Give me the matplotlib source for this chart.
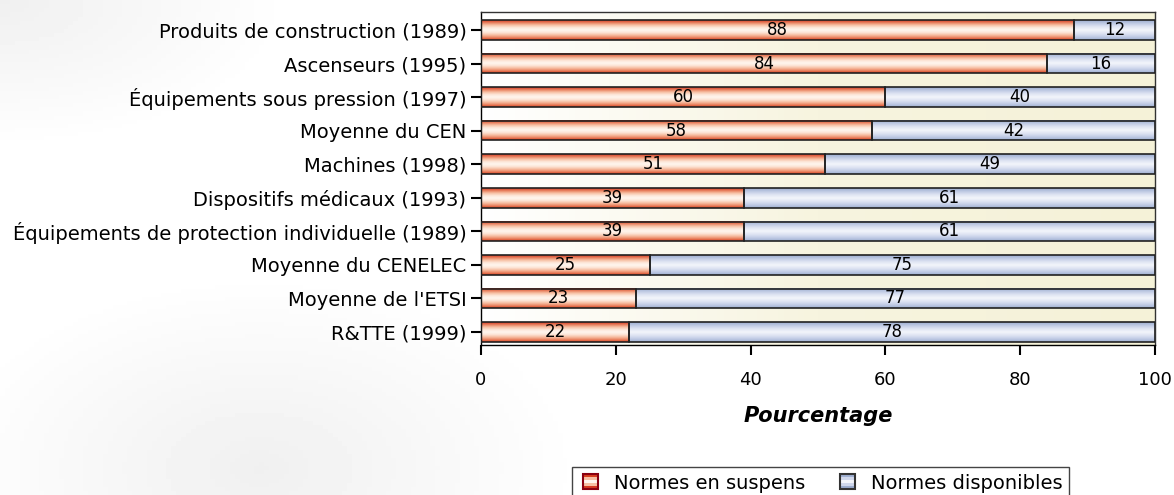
import numpy as np
import matplotlib
matplotlib.use("Agg")
import matplotlib.pyplot as plt
from matplotlib.colors import LinearSegmentedColormap
from matplotlib.patches import Rectangle
from matplotlib.legend_handler import HandlerBase

plt.rcParams['font.family'] = ['DejaVu Sans']

categories = ["Produits de construction (1989)", "Ascenseurs (1995)",
              "Équipements sous pression (1997)", "Moyenne du CEN",
              "Machines (1998)", "Dispositifs médicaux (1993)",
              "Équipements de protection individuelle (1989)",
              "Moyenne du CENELEC", "Moyenne de l'ETSI", "R&TTE (1999)"]
suspens = [88, 84, 60, 58, 51, 39, 39, 25, 23, 22]
disponibles = [12, 16, 40, 42, 49, 61, 61, 75, 77, 78]
xticks = [0, 20, 40, 60, 80, 100]

RED = ["#d63a22", "#e8805e", "#f7c0a4", "#fde6d8", "#fff6ef", "#fde6d8", "#f7c0a4", "#eb8a68", "#d8401f"]
BLUE = ["#9cadcf", "#bfcae4", "#dfe4f3", "#f3f5fb", "#dfe4f3", "#c3cde6", "#a0b0d2"]
red_cmap = LinearSegmentedColormap.from_list("r", RED)
blue_cmap = LinearSegmentedColormap.from_list("b", BLUE)
H = 0.58

fig = plt.figure(figsize=(11.74, 4.95), dpi=100)
# fond gris leger
bg = fig.add_axes([0, 0, 1, 1], zorder=-5)
gx, gy = np.meshgrid(np.linspace(0, 1, 240), np.linspace(0, 1, 120))
s1 = np.clip(1 - np.hypot((gx - 0.0) / 0.25, (gy - 1.0) / 0.3), 0, 1)
s2 = np.clip(1 - np.hypot((gx - 0.22) / 0.28, (gy - 0.05) / 0.4), 0, 1)
shade = np.maximum(s1, s2) * 0.06
bg.imshow(1 - shade, cmap="gray", vmin=0, vmax=1, extent=[0, 1, 0, 1], aspect="auto",
          origin="lower")
bg.axis("off")

ax = fig.add_axes([481 / 1174, 1 - 345 / 495, (1155 - 481) / 1174, (345 - 12) / 495])
ax.imshow(np.linspace(0, 1, 100)[None, :],
          cmap=LinearSegmentedColormap.from_list("p", ["#ffffff", "#f7f4df", "#f5f2d8"]),
          extent=[0, 1, 0, 1], transform=ax.transAxes, aspect="auto", zorder=0)

grad = np.linspace(0, 1, 60)[:, None]
for i in range(len(categories)):
    segs = [(0, suspens[i], red_cmap), (suspens[i], disponibles[i], blue_cmap)]
    for left, w, cm in segs:
        ax.imshow(grad, cmap=cm, extent=[left, left + w, i + H / 2, i - H / 2],
                  aspect="auto", zorder=2, interpolation="bilinear")
        ax.add_patch(Rectangle((left, i - H / 2), w, H, fill=False,
                               edgecolor="#222222", lw=1.2, zorder=3))
    ax.text(suspens[i] / 2, i, str(suspens[i]), ha="center", va="center",
            fontsize=12, zorder=4)
    ax.text(suspens[i] + disponibles[i] / 2, i, str(disponibles[i]), ha="center",
            va="center", fontsize=12, zorder=4)

ax.set_xlim(0, 100)
ax.set_ylim(9 + 13 / 33.6, -18 / 33.6)
ax.set_yticks(range(len(categories)))
ax.set_yticklabels(categories, fontsize=14)
ax.set_xticks(xticks)
ax.set_xticklabels([str(t) for t in xticks], fontsize=13)
ax.tick_params(axis="both", direction="out", length=7, width=1.5, color="black")
ax.tick_params(axis="x", pad=12)
ax.set_xlabel("Pourcentage", fontsize=15, fontweight="bold", fontstyle="italic", labelpad=12)
for s in ax.spines.values():
    s.set_color("#333333")
    s.set_linewidth(1)
ax.spines["left"].set_color("black")
ax.spines["bottom"].set_color("black")


class StripeHandler(HandlerBase):
    def __init__(self, cm, edge):
        super().__init__()
        self.cm = cm
        self.edge = edge

    def create_artists(self, legend, orig_handle, xdescent, ydescent, width, height, fontsize, trans):
        s = min(width, height) * 1.1
        x0 = xdescent + width - s
        y0 = -ydescent + (height - s) / 2
        arts = []
        n = 5
        for k in range(n):
            arts.append(Rectangle((x0, y0 + k * s / n), s, s / n, facecolor=self.cm(k / (n - 1)),
                                  edgecolor="none", transform=trans))
        arts.append(Rectangle((x0, y0), s, s, fill=False, edgecolor=self.edge, lw=1.5, transform=trans))
        return arts


h1 = Rectangle((0, 0), 1, 1)
h2 = Rectangle((0, 0), 1, 1)
fig.legend([h1, h2], ["Normes en suspens", "Normes disponibles"],
           handler_map={h1: StripeHandler(red_cmap, "#8a0010"), h2: StripeHandler(blue_cmap, "#333333")},
           loc="upper left", bbox_to_anchor=(562 / 1174, 1 - 457 / 495), ncol=2, fontsize=14,
           frameon=True, fancybox=False, edgecolor="#444444", framealpha=1,
           handlelength=1.0, handletextpad=0.8, columnspacing=1.6, borderpad=0.35)

fig.savefig("out.png", dpi=100)
